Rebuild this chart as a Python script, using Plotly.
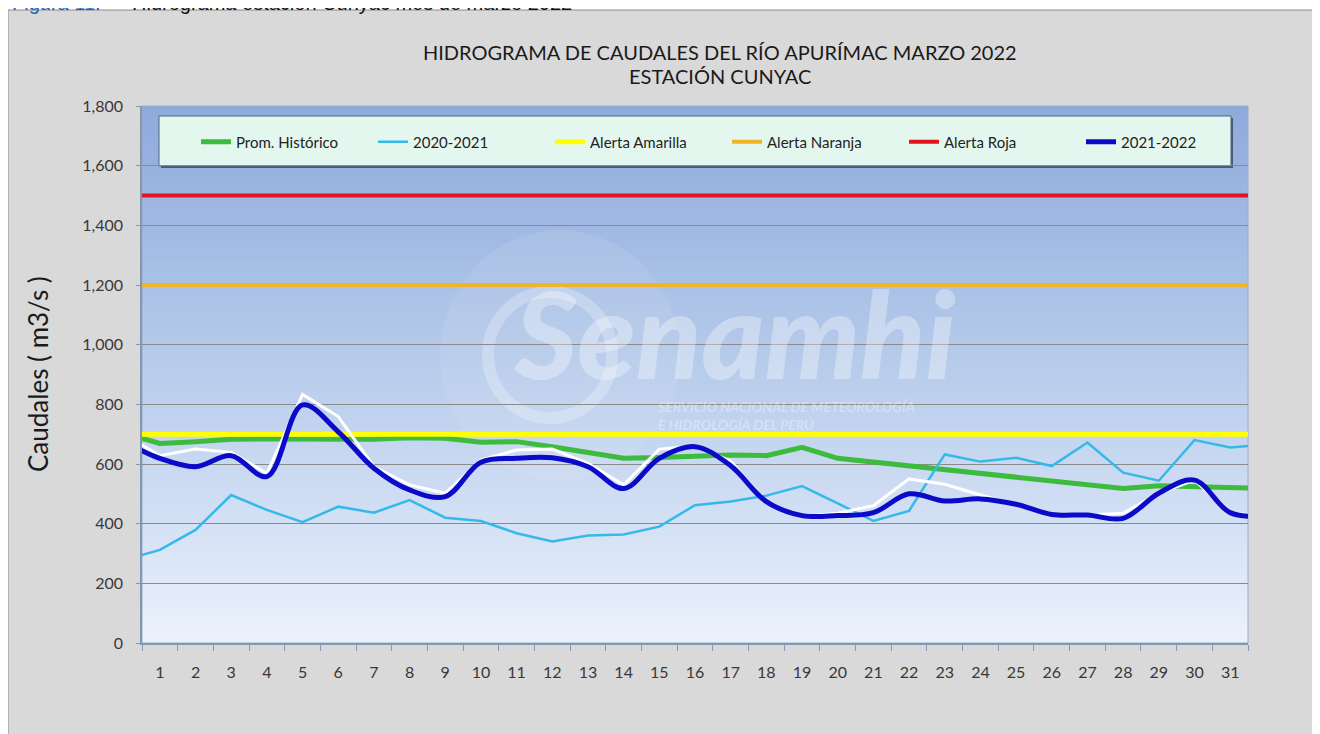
import plotly.graph_objects as go

# ---------------- data ----------------
# day 0 = 28 Feb and day 32 = 1 Apr: only the part up to the plot edges is visible
days = list(range(0, 33))
tick_days = list(range(1, 32))
tick_labels = [str(d) for d in tick_days]

prom_historico = [703, 669, 675, 683, 684, 683, 683, 683, 688, 686, 673, 675, 658, 639, 619, 622,
                  628, 630, 628, 656, 619, 606, 594, 582, 569, 555, 541, 527, 518, 527, 523, 518, 518]
serie_2020_2021 = [278, 312, 379, 496, 446, 405, 457, 437, 479, 420, 409, 368, 340, 360, 364, 390,
                   462, 474, 494, 526, 468, 409, 443, 632, 608, 621, 593, 672, 571, 544, 680, 655, 665]
serie_blanca = [700, 628, 650, 639, 569, 833, 759, 591, 530, 502, 613, 647, 650, 602, 530, 650,
                660, 610, 470, 424, 435, 460, 550, 532, 496, 463, 429, 429, 435, 502, 546, 437, 425]
serie_2021_2022 = [675, 619, 591, 628, 558, 798, 708, 586, 513, 491, 606, 619, 621, 591, 518, 619,
                   658, 594, 474, 427, 427, 437, 500, 476, 483, 465, 431, 429, 418, 502, 546, 437, 425]
alerta_amarilla = 700
alerta_naranja = 1200
alerta_roja = 1500

y_ticks = list(range(0, 1801, 200))

# ---------------- geometry helpers (page pixels; page has an 8px body margin) ----------------
OFF = 8
W, H = 1320 - OFF, 734 - OFF
PLOT_L, PLOT_R, PLOT_T, PLOT_B = 142, 1248, 106, 643          # page pixels
ML, MR, MT, MB = PLOT_L - OFF, W - (PLOT_R - OFF), PLOT_T - OFF, H - (PLOT_B - OFF)
PW, PH = W - ML - MR, H - MT - MB


def px(x):
    return (x - PLOT_L) / PW


def py(y):
    return (PLOT_B - y) / PH


FONT = "Lato, 'Open Sans', sans-serif"

fig = go.Figure()

fig.add_trace(go.Scatter(x=days, y=prom_historico, name="Prom. Histórico", mode="lines",
                         line=dict(color="#3DBB3D", width=5)))
fig.add_trace(go.Scatter(x=days, y=serie_2020_2021, name="2020-2021", mode="lines",
                         line=dict(color="#35B9EA", width=2.5)))
fig.add_trace(go.Scatter(x=days, y=[alerta_amarilla] * len(days), name="Alerta Amarilla", mode="lines",
                         line=dict(color="#FFFF00", width=5)))
fig.add_trace(go.Scatter(x=days, y=[alerta_naranja] * len(days), name="Alerta Naranja", mode="lines",
                         line=dict(color="#F0B428", width=4)))
fig.add_trace(go.Scatter(x=days, y=[alerta_roja] * len(days), name="Alerta Roja", mode="lines",
                         line=dict(color="#E0141E", width=4)))
fig.add_trace(go.Scatter(x=days, y=serie_blanca, name="", mode="lines", showlegend=False,
                         line=dict(color="#FFFFFF", width=3)))
fig.add_trace(go.Scatter(x=days, y=serie_2021_2022, name="2021-2022", mode="lines",
                         line=dict(color="#0A0AC8", width=5, shape="spline")))

shapes = []
# grey chart area
shapes.append(dict(type="rect", xref="paper", yref="paper", x0=px(8), x1=px(1318), y0=py(760), y1=py(10),
                   fillcolor="#D9D9D9", line=dict(color="#8C8C8C", width=1), layer="below"))
# vertical gradient of the plot area
stops = [(0.0, (236, 242, 252)), (0.3, (204, 219, 242)), (0.55, (180, 201, 234)), (1.0, (142, 170, 220))]


def grad(t):
    for (t0, c0), (t1, c1) in zip(stops[:-1], stops[1:]):
        if t0 <= t <= t1:
            f = (t - t0) / (t1 - t0)
            return "rgb(%d,%d,%d)" % tuple(round(a + (b - a) * f) for a, b in zip(c0, c1))
    return "rgb(%d,%d,%d)" % stops[-1][1]


N = 110
for i in range(N):
    y0 = i / N
    y1 = min(1.0, (i + 1.6) / N)
    shapes.append(dict(type="rect", xref="paper", yref="paper", x0=0, x1=1, y0=y0, y1=y1,
                       fillcolor=grad((i + 0.5) / N), line=dict(width=0), layer="below"))
# faint logo behind the watermark text
shapes.append(dict(type="circle", xref="paper", yref="paper", x0=px(440), x1=px(680), y0=py(480), y1=py(230),
                   fillcolor="rgba(255,255,255,0.08)", line=dict(width=0), layer="below"))
shapes.append(dict(type="circle", xref="paper", yref="paper", x0=px(488), x1=px(612), y0=py(418), y1=py(292),
                   fillcolor="rgba(0,0,0,0)", line=dict(color="rgba(255,255,255,0.25)", width=12), layer="below"))
# legend box
shapes.append(dict(type="rect", xref="paper", yref="paper", x0=px(161), x1=px(1233), y0=py(168), y1=py(118),
                   fillcolor="#4A5A70", line=dict(width=0), layer="below"))
shapes.append(dict(type="rect", xref="paper", yref="paper", x0=px(159), x1=px(1231), y0=py(166), y1=py(116),
                   fillcolor="#E3F7EF", line=dict(color="#55657A", width=1), layer="below"))
# plot border
shapes.append(dict(type="rect", xref="paper", yref="paper", x0=0, x1=1, y0=0, y1=1,
                   fillcolor="rgba(0,0,0,0)", line=dict(color="#9AAECB", width=1), layer="below"))


def ann(text, x, y, xanchor="center", yanchor="middle", **kw):
    return dict(text=text, x=px(x), y=py(y), xref="paper", yref="paper", showarrow=False,
                xanchor=xanchor, yanchor=yanchor, **kw)


annotations = [
    dict(ann("HIDROGRAMA DE CAUDALES DEL RÍO APURÍMAC MARZO 2022", 720, 52),
         font=dict(family=FONT, size=20, color="#1A1A1A")),
    dict(ann("ESTACIÓN CUNYAC", 720, 76), font=dict(family=FONT, size=20, color="#1A1A1A")),
    dict(ann("Caudales ( m3/s )", 38, 374, textangle=-90),
         font=dict(family=FONT, size=26, color="#1A1A1A")),
    dict(ann("Figura 11.", 10, 16, xanchor="left", yanchor="bottom"),
         font=dict(family="Liberation Sans, Arial, sans-serif", size=20, color="#1F5FBF")),
    dict(ann("Hidrograma estación Cunyac mes de marzo 2022", 130, 16, xanchor="left", yanchor="bottom"),
         font=dict(family="Liberation Sans, Arial, sans-serif", size=20, color="#111111")),
    # watermark
    dict(ann("Senamhi", 735, 333),
         font=dict(family=FONT, size=120, color="rgba(255,255,255,0.33)", weight=900, style="italic")),
    dict(ann("SERVICIO NACIONAL DE METEOROLOGÍA<br>E HIDROLOGÍA DEL PERÚ", 655, 415,
             xanchor="left", align="left"),
         font=dict(family=FONT, size=14, color="rgba(255,255,255,0.33)", weight="bold", style="italic")),
]

fig.update_layout(
    width=W, height=H,
    margin=dict(l=ML, r=MR, t=MT, b=MB, pad=0),
    paper_bgcolor="#FFFFFF",
    plot_bgcolor="rgba(0,0,0,0)",
    shapes=shapes,
    annotations=annotations,
    showlegend=True,
    legend=dict(orientation="h", x=px(196), y=py(142), xanchor="left", yanchor="middle",
                bgcolor="rgba(0,0,0,0)", borderwidth=0,
                font=dict(family=FONT, size=15, color="#222222"),
                entrywidth=132, entrywidthmode="pixels", itemwidth=30),
    xaxis=dict(range=[0.5, 31.5], tickmode="array", tickvals=tick_days, ticktext=tick_labels,
               showgrid=False, zeroline=False, showline=True, linecolor="#8496B0", linewidth=1.5,
               ticks="", ticklabelstandoff=14,
               minor=dict(tick0=0.5, dtick=1, ticks="outside", ticklen=6, tickcolor="#8496B0", showgrid=False),
               tickfont=dict(family=FONT, size=16, color="#383838")),
    yaxis=dict(range=[0, 1800], tickmode="array", tickvals=y_ticks, tickformat=",",
               showgrid=True, gridcolor="#8A8A8A", gridwidth=1, zeroline=False,
               showline=True, linecolor="#8496B0", linewidth=1.5,
               ticks="outside", ticklen=4, tickcolor="#8496B0", ticklabelstandoff=10,
               tickfont=dict(family=FONT, size=16, color="#383838")),
)

fig.write_html("out.html")
